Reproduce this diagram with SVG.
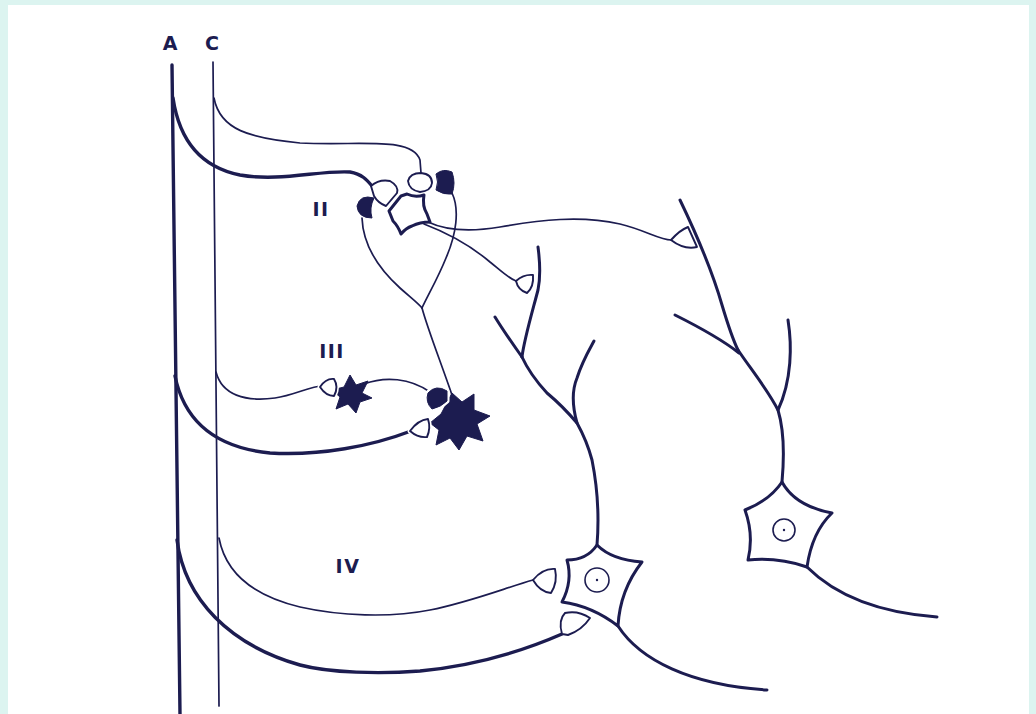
<svg xmlns="http://www.w3.org/2000/svg" width="1036" height="714" viewBox="0 0 1036 714">
  <style>
    .thick { fill: none; stroke: #1c1c50; stroke-width: 3.4; stroke-linecap: round; stroke-linejoin: round; }
    .thin { fill: none; stroke: #1c1c50; stroke-width: 1.7; stroke-linecap: round; stroke-linejoin: round; }
    .dend { fill: none; stroke: #1c1c50; stroke-width: 3; stroke-linecap: round; stroke-linejoin: round; }
    .cell { fill: #ffffff; stroke: #1c1c50; stroke-width: 3; stroke-linejoin: round; }
    .nuc { fill: #ffffff; stroke: #1c1c50; stroke-width: 1.6; }
    .bouton { fill: #ffffff; stroke: #1c1c50; stroke-width: 1.9; stroke-linejoin: round; }
    .halo { fill: #ffffff; stroke: #ffffff; stroke-width: 5; stroke-linejoin: round; }
    .dark { fill: #1c1c50; stroke: #1c1c50; stroke-width: 1; stroke-linejoin: round; }
    .label { font-family: "DejaVu Sans", "Liberation Sans", sans-serif; font-weight: bold; font-size: 19px; fill: #1c1c50; }
  </style>

  <!-- page -->
  <rect x="0" y="0" width="1036" height="714" fill="#dcf4f0"/>
  <rect x="8" y="5" width="1021" height="709" fill="#ffffff"/>

  <!-- column labels -->
  <text class="label" x="170" y="50" text-anchor="middle">A</text>
  <text class="label" x="212" y="50" text-anchor="middle">C</text>

  <!-- layer labels -->
  <text class="label" x="321" y="216" text-anchor="middle" letter-spacing="1.5">II</text>
  <text class="label" x="332" y="358" text-anchor="middle" letter-spacing="1.5">III</text>
  <text class="label" x="348" y="573" text-anchor="middle" letter-spacing="1.5">IV</text>

  <!-- root fibres and their collaterals -->
  <g id="connectors">
    <!-- A fibre (thick) and C fibre (thin) -->
    <path class="thick" d="M172,65 L180,714" stroke-width="3.8"/>
    <path class="thin" d="M213,62 L219,706" stroke-width="1.9"/>

    <!-- lamina II -->
    <path class="thick" d="M173,98 C180,145 205,168 240,175 C280,182 320,170 350,172 C362,174 367,180 372,186"/>
    <path class="thin" d="M214,98 C220,130 250,138 300,143 C360,146 412,136 420,160 L421,173"/>

    <!-- lamina III -->
    <path class="thick" d="M175,376 C185,425 220,448 270,453 C320,456 372,446 411,431"/>
    <path class="thin" d="M216,372 C222,395 245,402 275,398 C295,395 310,386 323,386"/>

    <!-- lamina IV -->
    <path class="thin" d="M219,538 C225,570 250,595 300,607 C340,616 390,618 430,610 C470,602 505,588 533,580"/>
    <path class="thick" d="M177,540 C185,600 230,645 300,665 C330,673 380,674 420,671 C480,665 530,648 562,634"/>

    <!-- interneuron processes in II -->
    <path class="thin" d="M362,218 C363,245 378,268 400,288 C410,297 418,303 422,308"/>
    <path class="thin" d="M452,193 C460,210 456,235 446,258 C438,278 428,295 422,308"/>
    <path class="thin" d="M422,308 C428,330 440,360 452,395"/>
    <path class="thin" d="M428,222 C445,230 470,232 500,227 C540,220 580,215 620,224 C645,230 660,240 671,240"/>
    <path class="thin" d="M424,224 C445,232 470,245 490,262 C500,270 508,278 516,281"/>

    <!-- lamina III short link from small stellate cell -->
    <path class="thin" d="M364,384 C385,376 410,378 430,392"/>
  </g>

  <!-- lamina II cluster -->
  <g id="cluster-II">
    <path class="bouton" d="M371,186 Q379,179 390,181 Q399,186 397,193 L386,206 Q378,203 374,196 Z"/>
    <path class="dark" d="M374,198 Q360,194 357,206 Q358,218 372,218 Q369,208 374,198 Z"/>
    <path class="bouton" d="M408,181 Q410,173 421,173 Q432,174 432,183 Q431,191 420,192 Q409,190 408,181 Z"/>
    <path class="dark" d="M436,174 Q443,168 452,172 Q456,183 452,194 Q443,195 436,190 Q439,182 436,174 Z"/>
    <path class="cell" stroke-width="1.9" d="M401,196 L407,194 Q415,198 424,195 Q422,206 427,214 L430,222 Q420,222 412,226 Q406,228 401,234 Q398,226 393,221 L389,211 Z"/>
  </g>

  <!-- lamina III cells -->
  <g id="cells-III">
    <polygon class="dark" points="350,375 356,385 368,381 362,393 372,398 360,402 356,413 348,404 336,409 340,397 332,390 344,387"/>
    <path class="halo" d="M320,387 Q326,378 334,379 Q339,387 334,396 Q326,396 320,387 Z"/>
    <path class="bouton" d="M320,387 Q326,378 334,379 Q339,387 334,396 Q326,396 320,387 Z"/>

    <polygon class="dark" points="452,393 462,402 474,394 474,410 490,416 477,424 483,441 467,436 459,450 450,438 436,445 439,430 430,423 441,414"/>
    <path class="halo" d="M428,393 Q436,384 447,391 L447,401 Q441,407 432,409 Q425,402 428,393 Z"/>
    <path class="dark" d="M428,393 Q436,384 447,391 L447,401 Q441,407 432,409 Q425,402 428,393 Z"/>
    <path class="halo" d="M410,431 Q418,420 428,419 Q431,428 427,437 Q418,438 410,431 Z"/>
    <path class="bouton" d="M410,431 Q418,420 428,419 Q431,428 427,437 Q418,438 410,431 Z"/>
  </g>

  <!-- pyramidal-type cell of lamina IV -->
  <g id="neuron-IV">
    <path class="dend" d="M597,545 C599,520 599,495 592,460 C588,445 582,432 577,423 C566,410 553,398 547,393 C535,380 527,368 522,357"/>
    <path class="dend" d="M522,357 C512,343 503,330 495,317"/>
    <path class="dend" d="M522,357 C524,340 532,313 538,290 C541,275 540,262 538,247"/>
    <path class="dend" d="M577,423 C572,405 572,390 577,378 C582,362 588,352 594,341"/>
    <path class="dend" d="M618,626 C640,660 690,685 767,690"/>
    <path class="cell" d="M597,545 Q587,560 567,560 Q573,581 562,602 Q592,606 618,626 Q620,590 642,562 Q612,560 597,545 Z"/>
    <circle class="nuc" cx="597" cy="580" r="12"/>
    <circle cx="597" cy="580" r="1.2" fill="#1c1c50"/>
    <path class="bouton" d="M533,580 Q543,568 555,569 Q558,582 551,593 Q540,592 533,580 Z"/>
    <path class="bouton" d="M562,634 Q558,620 565,613 Q578,610 590,618 Q582,630 568,635 Z"/>
    <path class="bouton" d="M516,281 Q524,274 533,275 Q534,287 527,293 Q518,290 516,281 Z"/>
  </g>

  <!-- deep cell on the right -->
  <g id="neuron-right">
    <path class="dend" d="M680,200 C692,225 712,270 722,305 C728,325 733,340 738,350"/>
    <path class="dend" d="M675,315 C695,325 720,338 739,353"/>
    <path class="dend" d="M738,350 C750,368 768,390 778,410 C784,430 784,460 782,482"/>
    <path class="dend" d="M788,320 C792,345 792,380 778,410"/>
    <path class="dend" d="M807,567 C830,590 870,612 937,617"/>
    <path class="cell" d="M782,482 Q795,506 832,513 Q812,532 807,567 Q778,557 748,560 Q754,535 745,510 Q770,500 782,482 Z"/>
    <circle class="nuc" cx="784" cy="530" r="11"/>
    <circle cx="784" cy="530" r="1.2" fill="#1c1c50"/>
    <path class="bouton" d="M671,240 Q680,230 688,227 L697,247 Q684,250 671,240 Z"/>
  </g>
</svg>
